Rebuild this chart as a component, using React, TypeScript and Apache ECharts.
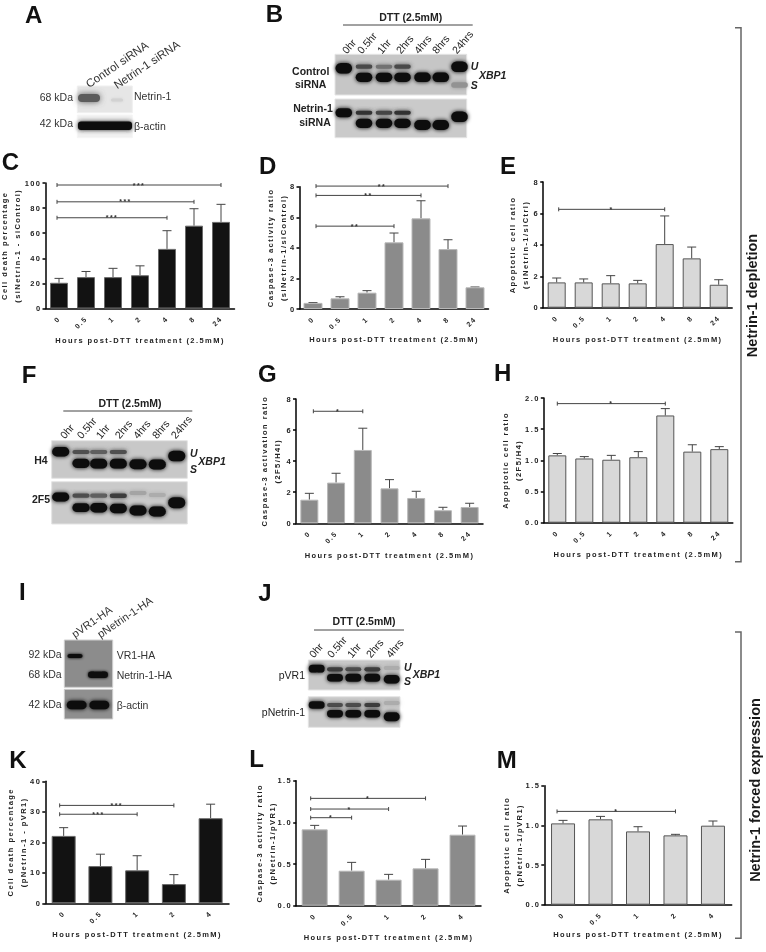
import React, { useEffect, useRef } from "react";
import * as echarts from "echarts";

const FONT = '"Liberation Sans", Arial, sans-serif';
const hours7 = ["0", "0.5", "1", "2", "4", "8", "24"];
const hours5 = ["0", "0.5", "1", "2", "4"];
const xTitle = "Hours post-DTT treatment (2.5mM)";

const cBars = [20.5, 25, 25, 26.5, 47.5, 66, 69];
const cTops = [24, 29.5, 32, 34, 62, 79.5, 83];
const cLinks = [[0, 6, 98.4, "***"], [0, 5, 85, "***"], [0, 4, 72.3, "***"]];

const dBars = [0.4, 0.7, 1.07, 4.36, 5.93, 3.92, 1.42];
const dTops = [0.42, 0.8, 1.2, 4.97, 7.08, 4.53, 1.44];
const dLinks = [[0, 5, 8.04, "**"], [0, 4, 7.43, "**"], [0, 3, 5.42, "**"]];

const eBars = [1.61, 1.61, 1.55, 1.55, 4.05, 3.14, 1.46];
const eTops = [1.89, 1.83, 2.04, 1.74, 5.84, 3.86, 1.78];
const eLinks = [[0, 4, 6.26, "*"]];

const gBars = [1.52, 2.62, 4.72, 2.25, 1.63, 0.84, 1.05];
const gTops = [1.93, 3.22, 6.12, 2.81, 2.06, 1.03, 1.29];
const gLinks = [[0, 2, 7.21, "*"]];

const hBars = [1.08, 1.03, 1.01, 1.05, 1.72, 1.14, 1.18];
const hTops = [1.11, 1.06, 1.08, 1.14, 1.83, 1.25, 1.22];
const hLinks = [[0, 4, 1.91, "*"]];

const kBars = [22.1, 12.2, 10.8, 6.3, 27.9];
const kTops = [24.8, 16.1, 15.6, 9.4, 32.5];
const kLinks = [[0, 3, 32.1, "***"], [0, 2, 29.2, "***"]];

const lBars = [0.916, 0.42, 0.312, 0.448, 0.852];
const lTops = [0.964, 0.52, 0.376, 0.556, 0.956];
const lLinks = [[0, 3, 1.288, "*"], [0, 2, 1.16, "*"], [0, 1, 1.056, "*"]];

const mBars = [1.025, 1.076, 0.924, 0.874, 0.996];
const mTops = [1.063, 1.113, 0.983, 0.887, 1.055];
const mLinks = [[0, 3, 1.176, "*"]];

const DARK = { fill: "#121212", edge: "#6a6a6a" };
const MID = { fill: "#8b8b8b", edge: "#b8b8b8" };
const LIGHT = { fill: "#d8d8d8", edge: "#555555" };

const panels = [
  { cats: hours7, bars: cBars, tops: cTops, links: cLinks, l: 45.5, r: 234.5, t: 183, b: 308.5, max: 100, step: 20, dec: 0, tone: DARK, bw: 18, yn: "Cell death percentage\n(siNetrin-1 - siControl)", yg: 34.5, xg: 31.5, off: -2 },
  { cats: hours7, bars: dBars, tops: dTops, links: dLinks, l: 299.5, r: 488.5, t: 186.7, b: 309, max: 8, step: 2, dec: 0, tone: MID, bw: 19, yn: "Caspase-3 activity ratio\n(siNetrin-1/siControl)", yg: 23, xg: 30, off: 3 },
  { cats: hours7, bars: eBars, tops: eTops, links: eLinks, l: 543.2, r: 732.2, t: 182, b: 307.7, max: 8, step: 2, dec: 0, tone: LIGHT, bw: 18, yn: "Apoptotic cell ratio\n(siNetrin-1/siCtrl)", yg: 24, xg: 31.6, off: 2 },
  { cats: hours7, bars: gBars, tops: gTops, links: gLinks, l: 296, r: 483, t: 399, b: 523.3, max: 8, step: 2, dec: 0, tone: MID, bw: 18, yn: "Caspase-3 activation ratio\n(2F5/H4I)", yg: 24.7, xg: 31.7, off: 4 },
  { cats: hours7, bars: hBars, tops: hTops, links: hLinks, l: 543.8, r: 732.8, t: 398, b: 522.7, max: 2, step: 0.5, dec: 1, tone: LIGHT, bw: 18, yn: "Apoptotic cell ratio\n(2F5/H4)", yg: 31.6, xg: 32, off: 0 },
  { cats: hours5, bars: kBars, tops: kTops, links: kLinks, l: 45.3, r: 229, t: 781.3, b: 903.3, max: 40, step: 10, dec: 0, tone: DARK, bw: 24, yn: "Cell death percentage\n(pNetrin-1 - pVR1)", yg: 28.7, xg: 31, off: -4 },
  { cats: hours5, bars: lBars, tops: lTops, links: lLinks, l: 296.2, r: 481, t: 780.7, b: 905.7, max: 1.5, step: 0.5, dec: 1, tone: MID, bw: 26, yn: "Caspase-3 activity ratio\n(pNetrin-1/pVR1)", yg: 30, xg: 32, off: -4 },
  { cats: hours5, bars: mBars, tops: mTops, links: mLinks, l: 544.3, r: 731.7, t: 785.7, b: 904.7, max: 1.5, step: 0.5, dec: 1, tone: LIGHT, bw: 24, yn: "Apoptotic cell ratio\n(pNetrin-1/pVR1)", yg: 31.3, xg: 29.6, off: -6 },
];

const letters: [string, number, number][] = [
  ["A", 25, 14], ["B", 265.7, 13], ["C", 1.7, 161], ["D", 259, 165], ["E", 500, 165],
  ["F", 21.7, 374], ["G", 258, 373], ["H", 494, 372], ["I", 19, 591], ["J", 258.3, 592],
  ["K", 9.3, 759], ["L", 249.3, 758], ["M", 496.7, 759],
];

const laneNames7 = ["0hr", "0.5hr", "1hr", "2hrs", "4hrs", "8hrs", "24hrs"];
const laneNames5 = ["0hr", "0.5hr", "1hr", "2hrs", "4hrs"];

function txt(text: string, x: number, y: number, o: any = {}) {
  return {
    type: "text",
    x,
    y,
    rotation: o.rot ? (o.rot * Math.PI) / 180 : 0,
    silent: true,
    style: {
      text,
      fill: o.fill || "#222",
      font: `${o.italic ? "italic " : ""}${o.bold ? "bold " : ""}${o.size || 10.5}px ${FONT}`,
      align: o.align || "left",
      textAlign: o.align || "left",
      verticalAlign: "middle",
      textVerticalAlign: "middle",
    },
  };
}

function box(x0: number, y0: number, x1: number, y1: number, fill: string, stroke = "#e4e4e4") {
  return { type: "rect", silent: true, shape: { x: x0, y: y0, width: x1 - x0, height: y1 - y0 }, style: { fill, stroke, lineWidth: 1 } };
}

function band(cx: number, cy: number, rx: number, ry: number, fill: string, blur = 2) {
  return {
    type: "rect",
    silent: true,
    shape: { x: cx - rx, y: cy - ry, width: rx * 2, height: ry * 2, r: ry },
    style: { fill, shadowBlur: blur, shadowColor: fill },
  };
}

function gel(lanes: number[], row: any[], rx = 8.3) {
  return row.map(([lane, y, ry, col]: [number, number, number, string]) => band(lanes[lane], y, rx, ry + 0.7, col, 4));
}

function gelPanelB() {
  const lanes = [343.8, 364, 384, 402.5, 422.5, 440.8, 459.5];
  const starts = [344, 359, 379, 398, 416, 434, 454];
  const dk = "#0c0c0c";
  return [
    box(335, 54.3, 466.7, 95, "#c6c6c6"),
    box(335, 99, 466.7, 137.7, "#cacaca"),
    ...gel(lanes, [
      [0, 68.3, 4.6, dk], [6, 66.7, 4.6, dk], [1, 66.7, 1.4, "#4a4a4a"], [2, 66.7, 1.3, "#727272"], [3, 66.7, 1.4, "#4a4a4a"],
      [1, 77.3, 3.9, dk], [2, 77.3, 3.9, dk], [3, 77.3, 3.9, dk], [4, 77.3, 4.1, dk], [5, 77.3, 4.1, dk], [6, 85, 2, "#929292"],
      [0, 112.7, 3.8, dk], [1, 112.7, 1.3, "#333"], [2, 112.7, 1.3, "#444"], [3, 112.7, 1.3, "#333"],
      [1, 123.3, 3.9, dk], [2, 123.3, 3.9, dk], [3, 123.3, 3.9, dk], [4, 125, 4.2, dk], [5, 125, 4.4, dk], [6, 116.7, 4.6, dk],
    ]),
    txt("DTT (2.5mM)", 410.7, 17.3, { bold: true, align: "center" }),
    { type: "line", silent: true, shape: { x1: 343, y1: 25, x2: 472.7, y2: 25 }, style: { stroke: "#444", lineWidth: 1 } },
    ...laneNames7.map((n, i) => txt(n, starts[i], 52, { rot: 50, size: 10.5 })),
    txt("Control", 310.7, 70.7, { bold: true, align: "center" }),
    txt("siRNA", 310.7, 84, { bold: true, align: "center" }),
    txt("Netrin-1", 313, 108, { bold: true, align: "center" }),
    txt("siRNA", 315, 122, { bold: true, align: "center" }),
    txt("U", 470.7, 65.7, { bold: true, italic: true }),
    txt("S", 470.7, 85, { bold: true, italic: true }),
    txt("XBP1", 479, 75.3, { bold: true, italic: true }),
  ];
}

function gelPanelF() {
  const lanes = [60.7, 81, 98.7, 118.3, 138, 157.3, 176.7];
  const starts = [62, 78.7, 97.7, 116.7, 135, 154, 172.7];
  const dk = "#0c0c0c";
  return [
    box(51.7, 440.7, 187.3, 478.3, "#c8c8c8"),
    box(51.7, 481.7, 187.3, 524, "#cacaca"),
    ...gel(lanes, [
      [0, 451.7, 4, dk], [1, 452, 1.4, "#505050"], [2, 452, 1.4, "#5e5e5e"], [3, 452, 1.4, "#505050"], [6, 456, 4.6, dk],
      [1, 463.3, 3.9, dk], [2, 463.7, 4.2, dk], [3, 463.7, 4.2, dk], [4, 464.3, 4.3, dk], [5, 464.5, 4.3, dk],
      [0, 497, 3.7, dk], [1, 495.7, 1.4, "#4e4e4e"], [2, 495.7, 1.4, "#5e5e5e"], [3, 495.7, 1.6, "#3e3e3e"], [6, 502.7, 4.8, dk],
      [4, 493, 1.3, "#a4a4a4"], [5, 495, 1.3, "#acacac"],
      [1, 507.7, 3.7, dk], [2, 507.7, 4, dk], [3, 508.5, 4, dk], [4, 510.5, 4.4, dk], [5, 511.5, 4.4, dk],
    ], 8.6),
    txt("DTT (2.5mM)", 130, 403.3, { bold: true, align: "center" }),
    { type: "line", silent: true, shape: { x1: 63.3, y1: 411, x2: 192.3, y2: 411 }, style: { stroke: "#444", lineWidth: 1 } },
    ...laneNames7.map((n, i) => txt(n, starts[i], 437, { rot: 50, size: 10.5 })),
    txt("H4", 47.7, 460, { bold: true, align: "right" }),
    txt("2F5", 50, 499.3, { bold: true, align: "right" }),
    txt("U", 190, 453.3, { bold: true, italic: true }),
    txt("S", 190, 469.3, { bold: true, italic: true }),
    txt("XBP1", 198.3, 461, { bold: true, italic: true }),
  ];
}

function gelPanelJ() {
  const lanes = [316.7, 335, 353.3, 372.3, 391.7];
  const starts = [311, 329, 349, 368, 388];
  const dk = "#0c0c0c";
  return [
    box(308.3, 660, 400, 690, "#c8c8c8"),
    box(308.3, 696.7, 400, 727.3, "#cacaca"),
    ...gel(lanes, [
      [0, 668.7, 3.2, dk], [1, 669.3, 1.4, "#3e3e3e"], [2, 669.3, 1.3, "#4e4e4e"], [3, 669.3, 1.4, "#3e3e3e"], [4, 668, 1.3, "#acacac"],
      [1, 677.7, 3.1, dk], [2, 677.7, 3.3, dk], [3, 677.7, 3.3, dk], [4, 679.3, 3.6, dk],
      [0, 705, 3.1, dk], [1, 705, 1.4, "#4e4e4e"], [2, 705, 1.4, "#4e4e4e"], [3, 705, 1.4, "#3e3e3e"], [4, 703, 1.3, "#acacac"],
      [1, 713.7, 3, dk], [2, 713.7, 3.1, dk], [3, 713.7, 3.1, dk], [4, 716.7, 3.8, dk],
    ], 8),
    txt("DTT (2.5mM)", 364, 621, { bold: true, align: "center" }),
    { type: "line", silent: true, shape: { x1: 314, y1: 630, x2: 404, y2: 630 }, style: { stroke: "#444", lineWidth: 1 } },
    ...laneNames5.map((n, i) => txt(n, starts[i], 656, { rot: 50, size: 10.5 })),
    txt("pVR1", 305, 675, { align: "right" }),
    txt("pNetrin-1", 305, 712.3, { align: "right" }),
    txt("U", 404, 667.3, { bold: true, italic: true }),
    txt("S", 404, 680.7, { bold: true, italic: true }),
    txt("XBP1", 412.7, 673.7, { bold: true, italic: true }),
  ];
}

function blotA() {
  return [
    box(77.3, 86, 132.3, 112.7, "#e6e6e6", "#efefef"),
    box(77.3, 115, 132.3, 137.7, "#f0f0f0", "#f5f5f5"),
    band(89, 98, 11, 4, "#5c5c5c", 6),
    band(117, 100, 6, 1.5, "#d2d2d2", 3),
    { type: "rect", silent: true, shape: { x: 78, y: 121.5, width: 54, height: 8.5, r: 3 }, style: { fill: "#0c0c0c", shadowBlur: 4, shadowColor: "#222" } },
    txt("Control siRNA", 87, 85, { rot: 34.5, size: 11.5, fill: "#333" }),
    txt("Netrin-1 siRNA", 115, 86, { rot: 34, size: 11.5, fill: "#333" }),
    txt("68 kDa", 73, 96.7, { align: "right", fill: "#333" }),
    txt("42 kDa", 73, 122.7, { align: "right", fill: "#333" }),
    txt("Netrin-1", 134, 96, { fill: "#333" }),
    txt("β-actin", 134, 126, { fill: "#333" }),
  ];
}

function blotI() {
  return [
    box(64.3, 640, 112.7, 687.3, "#8c8c8c", "#cfcfcf"),
    box(64.3, 689.3, 112.7, 719, "#8f8f8f", "#cfcfcf"),
    band(75, 656, 7.5, 2, "#0c0c0c", 3),
    band(98, 674.7, 10, 3.2, "#0c0c0c", 3),
    band(76.7, 705, 10, 4.3, "#0f0f0f", 4),
    band(99.3, 705, 10, 4.3, "#0f0f0f", 4),
    txt("pVR1-HA", 72.7, 635, { rot: 35, size: 11, fill: "#333" }),
    txt("pNetrin-1-HA", 98.3, 635, { rot: 34, size: 11, fill: "#333" }),
    txt("92 kDa", 61.7, 654.3, { align: "right", fill: "#333" }),
    txt("68 kDa", 61.7, 674, { align: "right", fill: "#333" }),
    txt("42 kDa", 61.7, 704.3, { align: "right", fill: "#333" }),
    txt("VR1-HA", 116.7, 655, { fill: "#333" }),
    txt("Netrin-1-HA", 116.7, 674.7, { fill: "#333" }),
    txt("β-actin", 116.7, 705, { fill: "#333" }),
  ];
}

function sideNote(label: string, x: number, top: number, bottom: number, textX: number, textY: number) {
  return [
    {
      type: "polyline",
      silent: true,
      shape: { points: [[x - 6, top], [x, top], [x, bottom], [x - 6, bottom]] },
      style: { stroke: "#666", lineWidth: 1.5, fill: "none" },
    },
    txt(label, textX, textY, { rot: 90, size: 14.5, bold: true, align: "center", fill: "#1a1a1a" }),
  ];
}

function buildOption() {
  const grid: any[] = [];
  const xAxis: any[] = [];
  const yAxis: any[] = [];
  const series: any[] = [];
  panels.forEach((p, i) => {
    grid.push({ left: p.l, top: p.t, width: p.r - p.l, height: p.b - p.t, containLabel: false, outerBoundsMode: "none" });
    xAxis.push({
      type: "category",
      gridIndex: i,
      data: p.cats,
      name: xTitle,
      nameLocation: "middle",
      nameGap: p.xg,
      nameMoveOverlap: false,
      nameTextStyle: { fontFamily: FONT, fontWeight: "bold", fontSize: 7.5, color: "#222", verticalAlign: "middle" },
      axisLine: { lineStyle: { color: "#000", width: 1.5 } },
      axisTick: { alignWithLabel: true, length: 3, lineStyle: { color: "#000", width: 1.5 } },
      axisLabel: { interval: 0, rotate: 45, fontFamily: FONT, fontWeight: "bold", fontSize: 7, color: "#222", margin: 9 },
      splitLine: { show: false },
    });
    yAxis.push({
      type: "value",
      gridIndex: i,
      min: 0,
      max: p.max,
      interval: p.step,
      name: p.yn,
      nameLocation: "middle",
      nameRotate: 90,
      nameGap: p.yg,
      nameMoveOverlap: false,
      nameTextStyle: { fontFamily: FONT, fontWeight: "bold", fontSize: 7.5, color: "#222", lineHeight: 13, verticalAlign: "middle", align: "center" },
      axisLine: { show: true, lineStyle: { color: "#000", width: 1.5 } },
      axisTick: { show: true, length: 3, lineStyle: { color: "#000", width: 1.5 } },
      axisLabel: {
        fontFamily: FONT,
        fontWeight: "bold",
        fontSize: 7.5,
        color: "#222",
        margin: 4,
        formatter: (v: number) => v.toFixed(p.dec),
      },
      splitLine: { show: false },
    });
    series.push({
      type: "bar",
      xAxisIndex: i,
      yAxisIndex: i,
      data: p.bars,
      barWidth: p.bw,
      itemStyle: { color: p.tone.fill, borderColor: p.tone.edge, borderWidth: 1 },
      silent: true,
      z: 2,
    });
    series.push({
      type: "custom",
      xAxisIndex: i,
      yAxisIndex: i,
      silent: true,
      z: 1,
      data: p.bars.map((b, j) => [j, b, p.tops[j]]),
      encode: { x: 0, y: 2 },
      renderItem: (_: any, api: any) => {
        const a = api.coord([api.value(0), api.value(1)]);
        const c = api.coord([api.value(0), api.value(2)]);
        const st = { stroke: "#444", lineWidth: 1, fill: "none" };
        return {
          type: "group",
          children: [
            { type: "line", shape: { x1: a[0], y1: a[1], x2: c[0], y2: c[1] }, style: st },
            { type: "line", shape: { x1: c[0] - 4.5, y1: c[1], x2: c[0] + 4.5, y2: c[1] }, style: st },
          ],
        };
      },
    });
    series.push({
      type: "custom",
      xAxisIndex: i,
      yAxisIndex: i,
      silent: true,
      z: 3,
      data: p.links.map((k) => [k[0], k[2], k[1]]),
      encode: { x: 0, y: 1 },
      renderItem: (params: any, api: any) => {
        const a = api.coord([api.value(0), api.value(1)]);
        const c = api.coord([api.value(2), api.value(1)]);
        const x1 = a[0] + p.off;
        const y = a[1];
        const st = { stroke: "#444", lineWidth: 1, fill: "none" };
        return {
          type: "group",
          children: [
            { type: "line", shape: { x1, y1: y, x2: c[0], y2: y }, style: st },
            { type: "line", shape: { x1, y1: y - 2, x2: x1, y2: y + 2 }, style: st },
            { type: "line", shape: { x1: c[0], y1: y - 2, x2: c[0], y2: y + 2 }, style: st },
            {
              type: "text",
              x: (x1 + c[0]) / 2,
              y: y,
              style: { text: String(p.links[params.dataIndex][3]), font: `bold 7px ${FONT}`, fill: "#333", align: "center", verticalAlign: "middle", textAlign: "center", textVerticalAlign: "middle" },
            },
          ],
        };
      },
    });
  });

  const graphic = [
    ...letters.map(([s, x, y]) => txt(s, x, y, { bold: true, size: 24, fill: "#111" })),
    ...blotA(),
    ...gelPanelB(),
    ...gelPanelF(),
    ...blotI(),
    ...gelPanelJ(),
    ...sideNote("Netrin-1 depletion", 741, 27.7, 561.7, 751.7, 295.5),
    ...sideNote("Netrin-1 forced expression", 741, 632, 938.3, 755, 790),
  ];

  return { animation: false, backgroundColor: "#fff", grid, xAxis, yAxis, series, graphic: { elements: graphic } };
}

export default function App() {
  const ref = useRef<HTMLDivElement>(null);
  useEffect(() => {
    document.body.style.margin = "0";
    const chart = echarts.init(ref.current!, undefined, { renderer: "svg", width: 766, height: 952 });
    chart.setOption(buildOption());
    ref.current!.querySelectorAll("text").forEach((t) => {
      const f = (t.getAttribute("style") || "") + " " + getComputedStyle(t).fontSize;
      if (/\b(7\.5|7)px/.test(f)) {
        (t as SVGTextElement).style.letterSpacing = "1.45px";
      }
    });
    return () => chart.dispose();
  }, []);
  return <div ref={ref} style={{ width: 766, height: 952, position: "absolute", left: 0, top: 0, background: "#fff", filter: "blur(0.55px)" }} />;
}
